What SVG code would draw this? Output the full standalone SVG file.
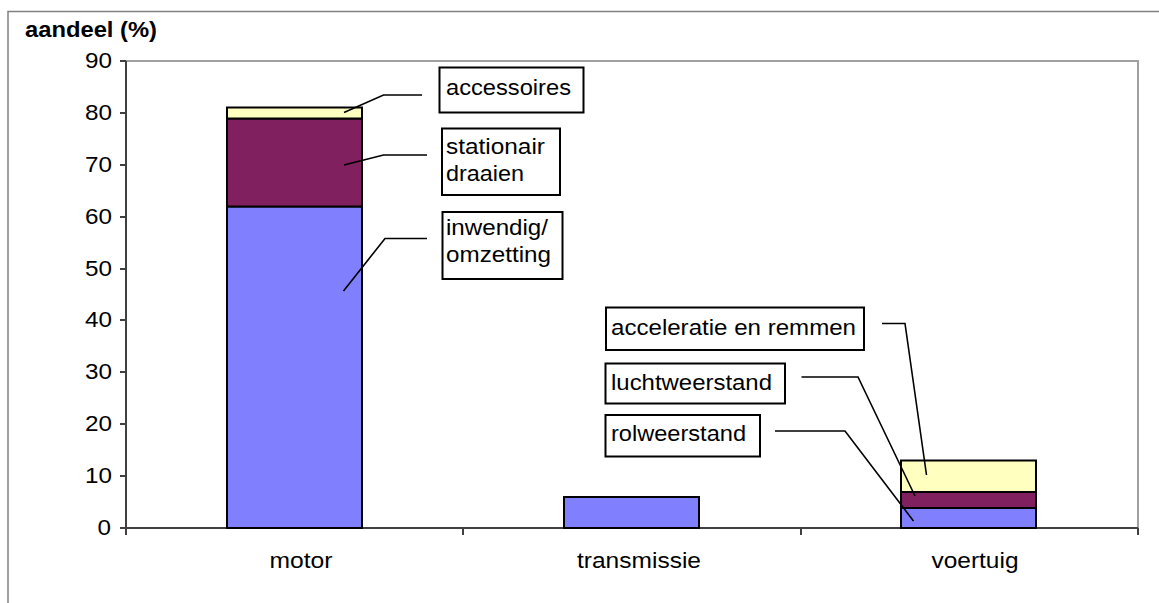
<svg xmlns="http://www.w3.org/2000/svg" width="1159" height="603" viewBox="0 0 1159 603">
<style>
text{font-family:"Liberation Sans",Arial,sans-serif;fill:#000;font-size:22px}
.tick{text-anchor:end}
.cat{text-anchor:middle}
.box{fill:#fff;stroke:#000;stroke-width:2}
.bar{stroke:#000;stroke-width:2}
.b{fill:#8080ff}.p{fill:#80205f}.y{fill:#ffffc0}
.lead{fill:none;stroke:#000;stroke-width:1.6}
.ax{stroke:#404040;stroke-width:2;fill:none}
.grid{stroke:#a0a0a0;stroke-width:2;fill:none}
</style>
<rect width="1159" height="603" fill="#fff"/>
<g id="frame"><path d="M8,603 V11.5 H1159" fill="none" stroke="#808080" stroke-width="1.5"/></g>
<g id="plot">
<path class="grid" d="M126,61 H1138 V528"/>
<path class="ax" d="M126,61 V528 H1138"/>
<path class="ax" stroke-width="1.5" d="M120,61H126M120,113H126M120,165H126M120,217H126M120,269H126M120,320H126M120,372H126M120,424H126M120,476H126M120,528H126M126,528V535M463,528V535M801,528V535M1138,528V535"/>
<text class="tick" x="112" y="68" textLength="27" lengthAdjust="spacingAndGlyphs">90</text>
<text class="tick" x="112" y="120" textLength="27" lengthAdjust="spacingAndGlyphs">80</text>
<text class="tick" x="112" y="172" textLength="27" lengthAdjust="spacingAndGlyphs">70</text>
<text class="tick" x="112" y="224" textLength="27" lengthAdjust="spacingAndGlyphs">60</text>
<text class="tick" x="112" y="276" textLength="27" lengthAdjust="spacingAndGlyphs">50</text>
<text class="tick" x="112" y="327" textLength="27" lengthAdjust="spacingAndGlyphs">40</text>
<text class="tick" x="112" y="379" textLength="27" lengthAdjust="spacingAndGlyphs">30</text>
<text class="tick" x="112" y="431" textLength="27" lengthAdjust="spacingAndGlyphs">20</text>
<text class="tick" x="112" y="483" textLength="27" lengthAdjust="spacingAndGlyphs">10</text>
<text class="tick" x="111" y="535" textLength="13.5" lengthAdjust="spacingAndGlyphs">0</text>
<text x="25" y="37" font-weight="bold" textLength="132" lengthAdjust="spacingAndGlyphs">aandeel (%)</text>
<text class="cat" x="301" y="568" textLength="63" lengthAdjust="spacingAndGlyphs">motor</text>
<text class="cat" x="639" y="568" textLength="124" lengthAdjust="spacingAndGlyphs">transmissie</text>
<text class="cat" x="975" y="568" textLength="87" lengthAdjust="spacingAndGlyphs">voertuig</text>
</g>
<g id="bars">
<rect class="bar b" x="227" y="206.5" width="135" height="321.5"/>
<rect class="bar p" x="227" y="118.5" width="135" height="88"/>
<rect class="bar y" x="227" y="107.5" width="135" height="11"/>
<rect class="bar b" x="564" y="497" width="135" height="31"/>
<rect class="bar b" x="901" y="508" width="135" height="20"/>
<rect class="bar p" x="901" y="492" width="135" height="16"/>
<rect class="bar y" x="901" y="460.5" width="135" height="31.5"/>
</g>
<g id="connectors">
<path class="lead" d="M344,112.5 L383.5,95 H422"/>
<path class="lead" d="M344,165 L383.5,155 H427"/>
<path class="lead" d="M343.5,291 L385,238.5 H427"/>
<path class="lead" d="M882,323.5 H905 L926.5,475"/>
<path class="lead" d="M801.5,377 H858 L915,496"/>
<path class="lead" d="M775,431 H845 L913.5,521"/>
</g>
<g id="label-accessoires">
<rect class="box" x="439.5" y="67.5" width="144" height="45"/>
<text x="446" y="95" textLength="125" lengthAdjust="spacingAndGlyphs">accessoires</text>
</g>
<g id="label-stationair">
<rect class="box" x="442" y="128.5" width="118" height="66.5"/>
<text x="446" y="154" textLength="99" lengthAdjust="spacingAndGlyphs">stationair</text>
<text x="446" y="181" textLength="78" lengthAdjust="spacingAndGlyphs">draaien</text>
</g>
<g id="label-inwendig">
<rect class="box" x="442.5" y="212" width="120" height="67"/>
<text x="446" y="235" textLength="102" lengthAdjust="spacingAndGlyphs">inwendig/</text>
<text x="446" y="262" textLength="105" lengthAdjust="spacingAndGlyphs">omzetting</text>
</g>
<g id="label-acceleratie">
<rect class="box" x="606" y="307.5" width="258" height="42.5"/>
<text x="611" y="335" textLength="245" lengthAdjust="spacingAndGlyphs">acceleratie en remmen</text>
</g>
<g id="label-luchtweerstand">
<rect class="box" x="605.5" y="363.5" width="179.5" height="40"/>
<text x="611" y="390" textLength="161" lengthAdjust="spacingAndGlyphs">luchtweerstand</text>
</g>
<g id="label-rolweerstand">
<rect class="box" x="605.5" y="415" width="154.5" height="41.5"/>
<text x="611" y="441" textLength="135" lengthAdjust="spacingAndGlyphs">rolweerstand</text>
</g>
</svg>
